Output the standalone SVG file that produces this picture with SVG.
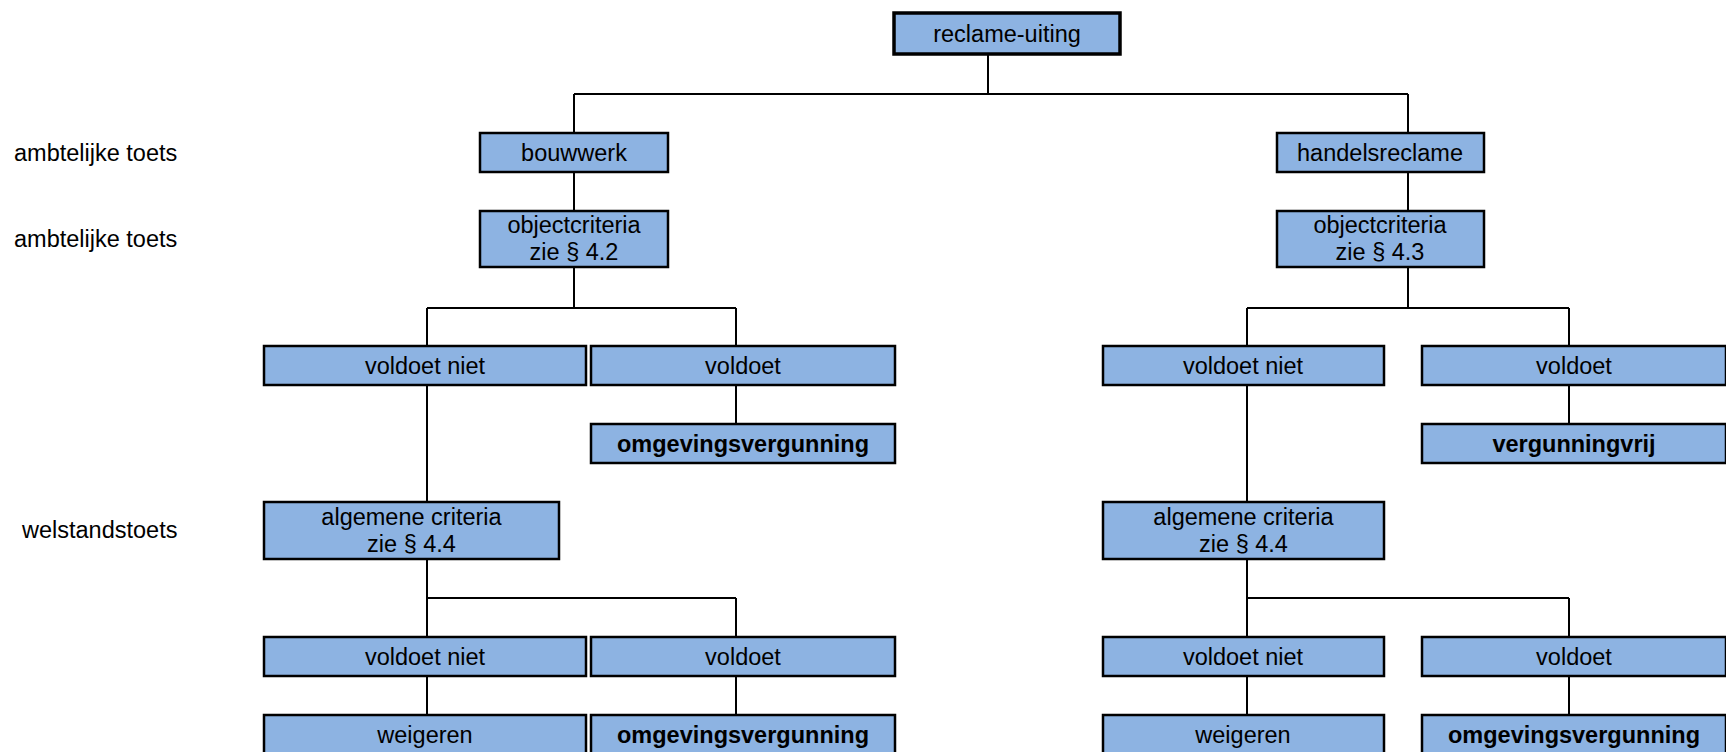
<svg xmlns="http://www.w3.org/2000/svg" width="1726" height="752" viewBox="0 0 1726 752">
<style>
.box{fill:#8DB3E2;stroke:#000;stroke-width:2.5}
.top{stroke-width:3.5}
.t{font-family:"Liberation Sans",Arial,sans-serif;font-size:23.5px;fill:#000;text-anchor:middle}
.b{font-weight:bold}
.lbl{font-family:"Liberation Sans",Arial,sans-serif;font-size:23.5px;fill:#000}
.c{stroke:#000;stroke-width:2;fill:none}
</style>
<rect width="1726" height="752" fill="#fff"/>
<g id="connectors">
<path class="c" d="M988 54V94M574 94H1408M574 94V133M1408 94V133M574 172V211M1408 172V211"/>
<path class="c" d="M574 267V308M427 308H736M427 308V346M736 308V346M736 385V424M427 385V502"/>
<path class="c" d="M1408 267V308M1247 308H1569M1247 308V346M1569 308V346M1569 385V424M1247 385V502"/>
<path class="c" d="M427 559V598M427 598H736M427 598V637M736 598V637M427 676V715M736 676V715"/>
<path class="c" d="M1247 559V598M1247 598H1569M1247 598V637M1569 598V637M1247 676V715M1569 676V715"/>
</g>
<g id="labels">
<text class="lbl" x="14" y="161">ambtelijke toets</text>
<text class="lbl" x="14" y="247">ambtelijke toets</text>
<text class="lbl" x="22" y="538">welstandstoets</text>
</g>
<g id="n-reclame"><rect class="box top" x="894" y="13" width="226" height="41"/><text class="t" x="1007" y="42">reclame-uiting</text></g>
<g id="n-bouwwerk"><rect class="box" x="480" y="133" width="188" height="39"/><text class="t" x="574" y="161">bouwwerk</text></g>
<g id="n-handelsreclame"><rect class="box" x="1277" y="133" width="207" height="39"/><text class="t" x="1380" y="161">handelsreclame</text></g>
<g id="n-obj1"><rect class="box" x="480" y="211" width="188" height="56"/><text class="t" x="574" y="233">objectcriteria</text><text class="t" x="574" y="260">zie § 4.2</text></g>
<g id="n-obj2"><rect class="box" x="1277" y="211" width="207" height="56"/><text class="t" x="1380" y="233">objectcriteria</text><text class="t" x="1380" y="260">zie § 4.3</text></g>
<g id="n-vn1"><rect class="box" x="264" y="346" width="322" height="39"/><text class="t" x="425" y="374">voldoet niet</text></g>
<g id="n-v1"><rect class="box" x="591" y="346" width="304" height="39"/><text class="t" x="743" y="374">voldoet</text></g>
<g id="n-vn2"><rect class="box" x="1103" y="346" width="281" height="39"/><text class="t" x="1243" y="374">voldoet niet</text></g>
<g id="n-v2"><rect class="box" x="1422" y="346" width="304" height="39"/><text class="t" x="1574" y="374">voldoet</text></g>
<g id="n-omg1"><rect class="box" x="591" y="424" width="304" height="39"/><text class="t b" x="743" y="452">omgevingsvergunning</text></g>
<g id="n-vrij"><rect class="box" x="1422" y="424" width="304" height="39"/><text class="t b" x="1574" y="452">vergunningvrij</text></g>
<g id="n-alg1"><rect class="box" x="264" y="502" width="295" height="57"/><text class="t" x="411.5" y="525">algemene criteria</text><text class="t" x="411.5" y="552">zie § 4.4</text></g>
<g id="n-alg2"><rect class="box" x="1103" y="502" width="281" height="57"/><text class="t" x="1243.5" y="525">algemene criteria</text><text class="t" x="1243.5" y="552">zie § 4.4</text></g>
<g id="n-vn3"><rect class="box" x="264" y="637" width="322" height="39"/><text class="t" x="425" y="665">voldoet niet</text></g>
<g id="n-v3"><rect class="box" x="591" y="637" width="304" height="39"/><text class="t" x="743" y="665">voldoet</text></g>
<g id="n-vn4"><rect class="box" x="1103" y="637" width="281" height="39"/><text class="t" x="1243" y="665">voldoet niet</text></g>
<g id="n-v4"><rect class="box" x="1422" y="637" width="304" height="39"/><text class="t" x="1574" y="665">voldoet</text></g>
<g id="n-weig1"><rect class="box" x="264" y="715" width="322" height="39"/><text class="t" x="425" y="743">weigeren</text></g>
<g id="n-omg2"><rect class="box" x="591" y="715" width="304" height="39"/><text class="t b" x="743" y="743">omgevingsvergunning</text></g>
<g id="n-weig2"><rect class="box" x="1103" y="715" width="281" height="39"/><text class="t" x="1243" y="743">weigeren</text></g>
<g id="n-omg3"><rect class="box" x="1422" y="715" width="304" height="39"/><text class="t b" x="1574" y="743">omgevingsvergunning</text></g>
</svg>
